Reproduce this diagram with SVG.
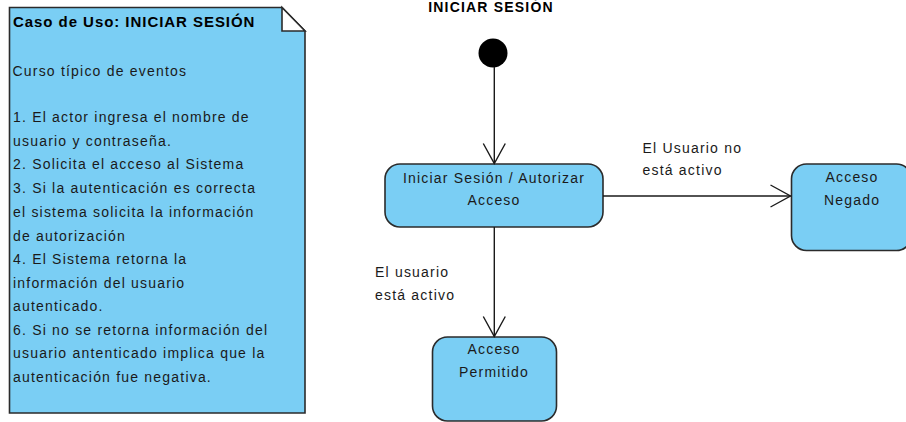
<svg xmlns="http://www.w3.org/2000/svg" width="906" height="422" viewBox="0 0 906 422">
<defs>
<style>
.shape{fill:#7ACEF4;stroke:#2b2b2b;stroke-width:1.6}
.t{font-family:"Liberation Sans",Arial,sans-serif;font-size:14px;fill:#1a1a1a;letter-spacing:1.2px}
.b{font-weight:bold;fill:#000}
.c{text-anchor:middle}
.edge{fill:none;stroke:#1a1a1a;stroke-width:1.4}
</style>
<marker id="open" viewBox="0 0 22 24" refX="21" refY="12" markerWidth="22" markerHeight="24" markerUnits="userSpaceOnUse" orient="auto">
<path d="M1,1 L21,12 L1,23" fill="none" stroke="#1a1a1a" stroke-width="1.4"/>
</marker>
</defs>
<rect width="906" height="422" fill="#fff"/>
<text class="t b c" x="491" y="11.5">INICIAR SESIÓN</text>
<g id="note">
<path class="shape" d="M9.5,7.5 H282 L305,31 V413 H9.5 Z"/>
<path d="M282,7.5 V31 H305 Z" fill="#fff" stroke="#2b2b2b" stroke-width="1.6" stroke-linejoin="miter"/>
<text class="t b" x="13" y="27" style="font-size:15px;letter-spacing:0.95px">Caso de Uso: INICIAR SESIÓN</text>
<text class="t" x="12.5" y="76">Curso típico de eventos</text>
<text class="t" x="13" y="122">1. El actor ingresa el nombre de</text>
<text class="t" x="13" y="145.5">usuario y contraseña.</text>
<text class="t" x="13" y="169">2. Solicita el acceso al Sistema</text>
<text class="t" x="13" y="193">3. Si la autenticación es correcta</text>
<text class="t" x="13" y="217">el sistema solicita la información</text>
<text class="t" x="13" y="240.5">de autorización</text>
<text class="t" x="13" y="264">4. El Sistema retorna la</text>
<text class="t" x="13" y="287.5">información del usuario</text>
<text class="t" x="13" y="311">autenticado.</text>
<text class="t" x="13" y="334.5">6. Si no se retorna información del</text>
<text class="t" x="13" y="358">usuario antenticado implica que la</text>
<text class="t" x="13" y="382">autenticación fue negativa.</text>
</g>
<g id="start">
<circle cx="493" cy="53" r="14.5" fill="#000"/>
</g>
<g id="iniciar">
<rect class="shape" x="385" y="164" width="218" height="63" rx="15" ry="15"/>
<text class="t c" x="494" y="183">Iniciar Sesión / Autorizar</text>
<text class="t c" x="494" y="205">Acceso</text>
</g>
<g id="negado">
<rect class="shape" x="791.5" y="164" width="120" height="86.5" rx="15" ry="15"/>
<text class="t c" x="852" y="182">Acceso</text>
<text class="t c" x="852" y="205">Negado</text>
</g>
<g id="permitido">
<rect class="shape" x="432.5" y="337" width="124" height="84" rx="15" ry="15"/>
<text class="t c" x="494" y="354">Acceso</text>
<text class="t c" x="494" y="377">Permitido</text>
</g>
<g id="connectors">
<path class="edge" d="M494.3,67 V163.5" marker-end="url(#open)"/>
<path class="edge" d="M603,196 H790.5" marker-end="url(#open)"/>
<path class="edge" d="M494.3,227 V336.5" marker-end="url(#open)"/>
<text class="t" x="642.5" y="153">El Usuario no</text>
<text class="t" x="642.5" y="175">está activo</text>
<text class="t" x="375" y="277">El usuario</text>
<text class="t" x="375" y="300">está activo</text>
</g>
</svg>
